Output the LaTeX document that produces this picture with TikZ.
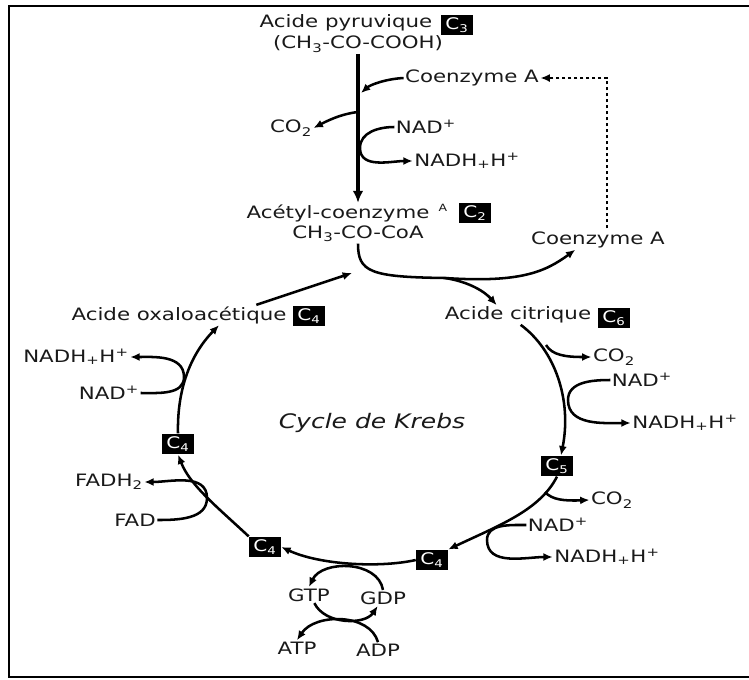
\documentclass[tikz,border=0pt]{standalone}
\usepackage{fontspec}
\setmainfont[FakeStretch=1.25]{DejaVu Sans}
\usetikzlibrary{arrows.meta}
\newcommand\XM{358}

\begin{document}
\begin{tikzpicture}
  [x=0.75pt, y=-0.75pt, >={Latex[length=7pt,width=6pt]},
   wire/.style = {
     line width=1.9pt
   },
   stem/.style = {
     line width=2.8pt
   },
   dotwire/.style = {
     line width=2.1pt, dash pattern=on 2.5pt off 2pt
   },
   lbl/.style = {
     inner sep=1pt, text=black!90, font=\fontsize{12.8}{15}\selectfont
   },
   cbox/.style = {
     fill=black, text=white, inner sep=0pt,
     minimum width=24pt, minimum height=15.5pt,
     font=\fontsize{12}{14}\selectfont
   }]

	\useasboundingbox (0,0) rectangle (749,679);
	\draw[line width=2pt] (749,6) -- (9,6) -- (9,677) -- (749,677);

	% Pyruvate
	\node[lbl] at (346,23) (pyr) {Acide pyruvique};
	\node[cbox] at (457,25) (pyrC) {C\textsubscript{3}};
	\node[lbl] at (\XM,44) (pyrF) {(CH\textsubscript{3}-CO-COOH)};

	% Oxidative decarboxylation
	\node[lbl] at (472,78) (coaT) {Coenzyme A};
	\node[lbl] at (291,128) (co2T) {CO\textsubscript{2}};
	\node[lbl] at (426,127) (nadT) {NAD\textsuperscript{+}};
	\node[lbl] at (467,161) (nadhT) {NADH\textsubscript{+}H\textsuperscript{+}};
	\coordinate (jCoa) at (\XM+3,93);
	\coordinate (jCo2) at (\XM,112);
	\coordinate (jNad) at (\XM+2,148);

	% Acetyl-CoA
	\node[lbl] at (338,213) (acetyl) {Acétyl-coenzyme};
	\node[lbl, font=\fontsize{7.5}{8}\selectfont] at (443,208) (acetylA) {A};
	\node[cbox] at (475,213) (acetylC) {C\textsubscript{2}};
	\node[lbl] at (\XM,234) (acetylF) {CH\textsubscript{3}-CO-CoA};
	\node[lbl] at (598,240) (coaB) {Coenzyme A};
	\coordinate (jSplit) at (445,278);
	\coordinate (jIn) at (352,273);

	% Cycle
	\node[lbl] at (179,315) (oxa) {Acide oxaloacétique};
	\node[cbox] at (309,316) (oxaC) {C\textsubscript{4}};
	\node[lbl] at (518,315) (cit) {Acide citrique};
	\node[cbox] at (614,318) (citC) {C\textsubscript{6}};
	\node[lbl, font=\itshape\fontsize{15}{18}\selectfont] at (372,423) (krebs) {Cycle de Krebs};
	\node[cbox] at (557,466) (c5) {C\textsubscript{5}};
	\node[cbox] at (432,560) (c4r) {C\textsubscript{4}};
	\node[cbox] at (265,547) (c4l) {C\textsubscript{4}};
	\node[cbox] at (178,444) (c4m) {C\textsubscript{4}};

	% Cofactors right
	\node[lbl] at (614,357) (co2R1) {CO\textsubscript{2}};
	\node[lbl] at (642,380) (nadR1) {NAD\textsuperscript{+}};
	\node[lbl] at (685,423) (nadhR1) {NADH\textsubscript{+}H\textsuperscript{+}};
	\node[lbl] at (612,500) (co2R2) {CO\textsubscript{2}};
	\node[lbl] at (558,525) (nadR2) {NAD\textsuperscript{+}};
	\node[lbl] at (607,557) (nadhR2) {NADH\textsubscript{+}H\textsuperscript{+}};
	\coordinate (jCo2a) at (546,345);
	\coordinate (jNada) at (568,400);
	\coordinate (jCo2b) at (545,492);
	\coordinate (jNadb) at (487,540);

	% Cofactors bottom
	\node[lbl] at (309,595) (gtp) {GTP};
	\node[lbl] at (383,598) (gdp) {GDP};
	\node[lbl] at (297,648) (atp) {ATP};
	\node[lbl] at (378,650) (adp) {ADP};

	% Cofactors left
	\node[lbl] at (109,482) (fadh) {FADH\textsubscript{2}};
	\node[lbl] at (135,520) (fad) {FAD};
	\node[lbl] at (76,357) (nadhL) {NADH\textsubscript{+}H\textsuperscript{+}};
	\node[lbl] at (109,393) (nadL) {NAD\textsuperscript{+}};
	\coordinate (jFad) at (207,498);
	\coordinate (jNadc) at (184,377);

	% Pyruvate to acetyl-CoA
	\draw[stem, -{Latex[length=9pt,width=8pt]}] (pyrF.south) -- (pyrF.south |- acetyl.north);
	\draw[wire, ->] (coaT.west) .. controls (385,79) and (370,85) .. (jCoa);
	\draw[wire, ->] (jCo2) .. controls (340,114) and (325,122) .. (co2T.east);
	\draw[wire, ->] (nadT.west) to[out=180, in=90] (jNad) to[out=-90, in=180] (nadhT.west);
	\draw[dotwire, ->] (coaB.north) ++(9,-2) |- (coaT.east);

	% Acetyl-CoA into the cycle
	\draw[wire] (acetylF.south) .. controls (\XM,272) and (370,277) .. (jSplit);
	\draw[wire, ->] (jSplit) .. controls (520,283) and (545,272) .. ([xshift=-17pt]coaB.south);
	\draw[wire, ->] (jSplit) .. controls (470,282) and (485,292) .. ([xshift=-16pt]cit.north);
	\draw[wire, ->] ([xshift=58pt]oxa.north) -- (jIn);

	% Krebs cycle
	\draw[wire, ->] ([xshift=2pt]cit.south) .. controls (555,350) and (572,400) .. ([xshift=3pt]c5.north);
	\draw[wire, ->] (c5.south) .. controls (540,510) and (500,525) .. (c4r.north east);
	\draw[wire, ->] (c4r.west) .. controls (380,568) and (320,565) .. (c4l.east);
	\draw[wire, ->] (c4l.north west) .. controls (215,505) and (190,485) .. (c4m.south);
	\draw[wire, ->] (c4m.north) .. controls (177,390) and (190,355) .. ([xshift=30pt]oxa.south);

	% Decarboxylations and oxidations
	\draw[wire, ->] (jCo2a) .. controls (552,355) and (565,357) .. (co2R1.west);
	\draw[wire, ->] (nadR1.west) to[out=180, in=90] (jNada) to[out=-90, in=180] (nadhR1.west);
	\draw[wire, ->] (jCo2b) .. controls (552,500) and (565,501) .. (co2R2.west);
	\draw[wire, ->] (nadR2.west) to[out=180, in=90] (jNadb) to[out=-90, in=180] (nadhR2.west);
	\draw[wire, ->] (gdp.north) .. controls (378,560) and (322,560) .. (gtp.north);
	\draw[wire, ->] ([xshift=4pt]gtp.south) .. controls (325,625) and (365,625) .. ([xshift=-4pt]gdp.south);
	\draw[wire, ->] (adp.north) .. controls (370,613) and (315,613) .. (atp.north);
	\draw[wire, ->] (fad.east) to[out=0, in=-90] (jFad) to[out=90, in=0] (fadh.east);
	\draw[wire, ->] (nadL.east) to[out=0, in=-90] (jNadc) to[out=90, in=0] (nadhL.east);

\end{tikzpicture}
\end{document}
